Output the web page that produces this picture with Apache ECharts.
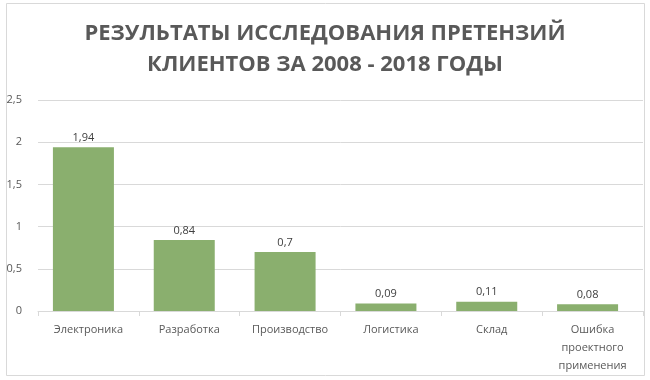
<!DOCTYPE html>
<html><head><meta charset="utf-8">
<script src="https://cdn.jsdelivr.net/npm/echarts@6/dist/echarts.min.js"></script>
<style>html,body{margin:0;padding:0;background:#fff}#c{width:650px;height:380px}</style>
</head><body><div id="c"></div>
<script>
const categories = ['Электроника','Разработка','Производство','Логистика','Склад','Ошибка\nпроектного\nприменения'];
const values = [1.94, 0.84, 0.7, 0.09, 0.11, 0.08];
const yTicks = [0, 0.5, 1, 1.5, 2, 2.5];
const titleText = 'РЕЗУЛЬТАТЫ ИССЛЕДОВАНИЯ ПРЕТЕНЗИЙ\nКЛИЕНТОВ ЗА 2008 - 2018 ГОДЫ';
const fmt = v => String(v).replace('.', ',');
const chart = echarts.init(document.getElementById('c'));
chart.setOption({
  animation: false,
  backgroundColor: '#fff',
  graphic: [{type:'rect', shape:{x:6.5,y:3.5,width:638,height:372}, style:{fill:'none', stroke:'#d9d9d9', lineWidth:1}}],
  title: {text: titleText, left: 'center', top: 13, textStyle: {fontFamily: 'Open Sans', fontWeight: 'bold', fontSize: 22, color: '#595959', lineHeight: 31}},
  grid: [
    {left: 38, right: 7, top: 100, bottom: 69, containLabel: false},
    {left: 33, right: 12, top: 100, bottom: 69, containLabel: false}
  ],
  xAxis: [
    {type: 'category', gridIndex: 0, data: categories, boundaryGap: true,
      axisLine: {lineStyle: {color: '#d9d9d9'}}, axisTick: {show: true, length: 5, lineStyle: {color: '#d9d9d9'}},
      axisLabel: {color: '#595959', fontFamily: 'Open Sans', fontSize: 11, lineHeight: 18, margin: 10, interval: 0}},
    {type: 'category', gridIndex: 1, data: categories, show: false}
  ],
  yAxis: [
    {type: 'value', gridIndex: 0, min: 0, max: 2.5, interval: 0.5,
      axisLine: {show: false}, axisTick: {show: false},
      splitLine: {lineStyle: {color: '#d9d9d9'}},
      axisLabel: {color: '#595959', fontFamily: 'Open Sans', fontSize: 11, margin: 16, formatter: v => yTicks.includes(v) ? fmt(v) : ''}},
    {type: 'value', gridIndex: 1, min: 0, max: 2.5, interval: 0.5, show: false, splitLine: {show: false}}
  ],
  series: [{type: 'bar', xAxisIndex: 1, yAxisIndex: 1, data: values, barWidth: '60.5%', itemStyle: {color: '#8aaf6e'},
    label: {show: true, position: 'top', color: '#404040', fontFamily: 'Open Sans', fontSize: 11, distance: 4, formatter: p => fmt(p.value)}}]
});
</script></body></html>
